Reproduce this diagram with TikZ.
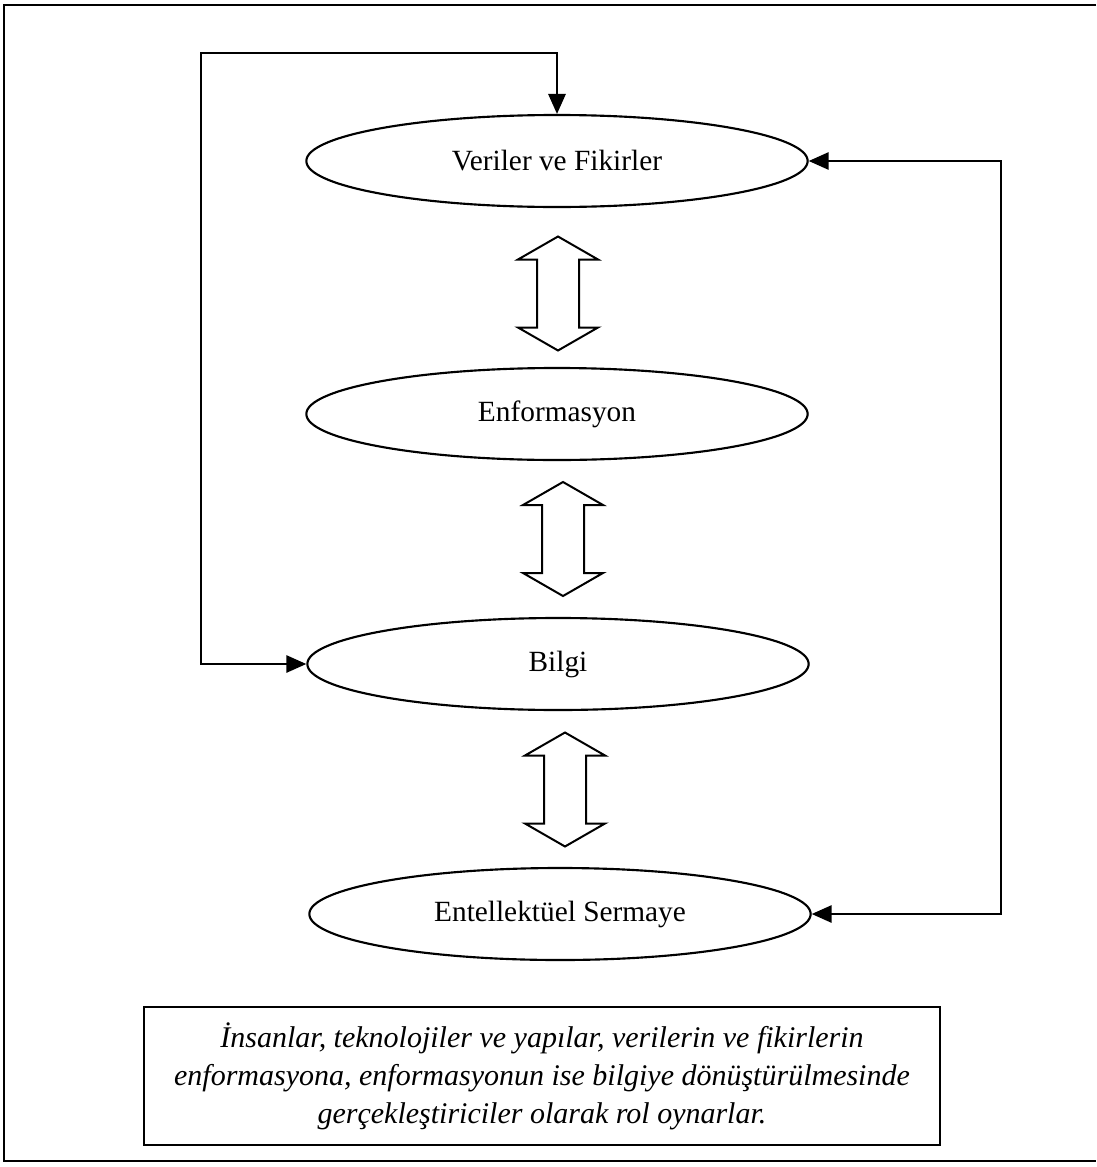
\documentclass[tikz,border=0pt]{standalone}
\usepackage{fontspec}
\setmainfont{Liberation Serif}
\usetikzlibrary{arrows.meta,shapes.geometric}

\tikzset{
  stage/.style={draw, ellipse, line width=1.6pt, minimum width=376pt,
    minimum height=69pt, inner sep=0pt, font=\fontsize{22}{26}\selectfont},
  link/.style={line width=1.5pt, {Triangle[length=15pt,width=13pt]}-{Triangle[length=15pt,width=13pt]}},
  frame/.style={line width=1.6pt},
  note/.style={draw, line width=1.5pt, minimum width=597pt, minimum height=103pt,
    align=center, inner sep=0pt,
    font=\fontsize{22.5}{28.5}\selectfont\itshape},
  pics/dblarrow/.style={code={
    \draw[line width=1.5pt, line join=miter]
      (0,-57) -- (40,-34) -- (21,-34) -- (21,34) -- (40,34) -- (0,57)
      -- (-40,34) -- (-21,34) -- (-21,-34) -- (-40,-34) -- cycle;
  }}
}

\begin{document}
\begin{tikzpicture}[x=0.75pt, y=-0.75pt]
  \useasboundingbox (0,0) rectangle (1096,1167);

  % outer frame (open on the right)
  \draw[frame] (1096,5) -- (4,5) -- (4,1161) -- (1096,1161);

  % stages
  \node[stage] (E1) at (557,161) {Veriler ve Fikirler};
  \node[stage] (E2) at (557,414) {Enformasyon};
  \node[stage] (E3) at (558,664) {Bilgi};
  \node[stage] (E4) at (560,914) {Entellektüel Sermaye};

  % two-way transformation arrows between stages
  \pic at (558,293.5) {dblarrow};
  \pic at (563,539) {dblarrow};
  \pic at (565,789.5) {dblarrow};

  % feedback loops
  \coordinate (lt) at (201,53);
  \coordinate (rt) at (1001,161);
  \draw[link] (E3.west) -| (lt) -| (E1.north);
  \draw[link] (E1.east) -| (rt |- E4.east) -- (E4.east);

  % explanatory note
  \node[note] (N) at (542,1076)
    {İnsanlar, teknolojiler ve yapılar, verilerin ve fikirlerin\\
     enformasyona, enformasyonun ise bilgiye dönüştürülmesinde\\
     gerçekleştiriciler olarak rol oynarlar.};
\end{tikzpicture}
\end{document}
